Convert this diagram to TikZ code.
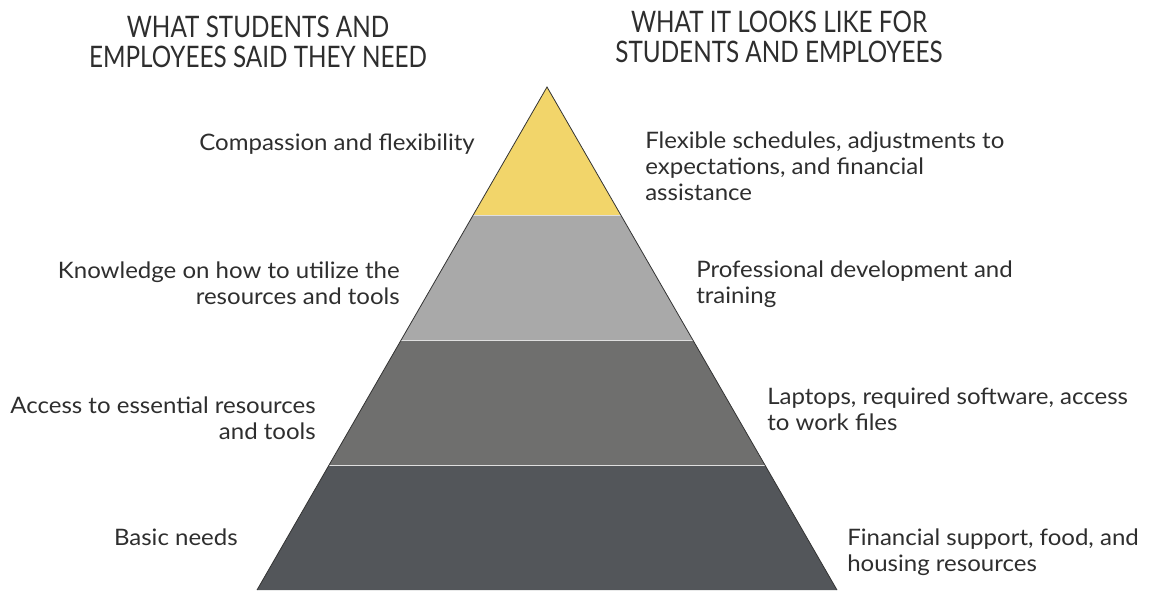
\documentclass[tikz,border=0pt]{standalone}
\usepackage{fontspec}
\setmainfont{Lato}
\newfontfamily\bodyfont[FakeStretch=1.06]{Lato}
\newfontfamily\headfont[FakeStretch=0.82]{Lato}
\definecolor{txt}{HTML}{2E2E2E}
\definecolor{lyellow}{HTML}{F2D56A}
\definecolor{llight}{HTML}{A9A9A9}
\definecolor{lmid}{HTML}{6F6F6E}
\definecolor{ldark}{HTML}{53565A}
\begin{document}
\begin{tikzpicture}[x=0.75pt,y=-0.75pt,
  lbl/.style={inner sep=0pt,text=txt,font=\bodyfont\fontsize{17}{19.2}\selectfont},
  lleft/.style={lbl,align=right,anchor=base east},
  lright/.style={lbl,align=left,anchor=base west},
  head/.style={inner sep=0pt,text=txt,align=center,anchor=base,font=\headfont\fontsize{22.2}{22.5}\selectfont}]
\useasboundingbox (0,0) rectangle (1151,590);
% pyramid corners
\coordinate (apex) at (547,87);
\coordinate (l1) at (473.2,215); \coordinate (r1) at (620.8,215);
\coordinate (l2) at (401.1,340); \coordinate (r2) at (692.9,340);
\coordinate (l3) at (329.1,465); \coordinate (r3) at (764.9,465);
\coordinate (l4) at (257,590);   \coordinate (r4) at (837,590);
\fill[lyellow] (apex) -- (r1) -- (l1) -- cycle;
\fill[llight] (l1) -- (r1) -- (r2) -- (l2) -- cycle;
\fill[lmid] (l2) -- (r2) -- (r3) -- (l3) -- cycle;
\fill[ldark] (l3) -- (r3) -- (r4) -- (l4) -- cycle;
\draw[white!75!gray,line width=0.5pt] (l1) -- (r1) (l2) -- (r2) (l3) -- (r3);
\draw[black!80,line width=0.6pt] (l4) -- (apex) -- (r4);
% headings (anchor = baseline of last line)
\node[head] (h1) at (258,67) {WHAT STUDENTS AND\\EMPLOYEES SAID THEY NEED};
\node[head] (h2) at (779,62) {WHAT IT LOOKS LIKE FOR\\STUDENTS AND EMPLOYEES};
% left labels
\node[lleft] (a1) at (475,150) {Compassion and flexibility};
\node[lleft] (a2) at (400,304) {Knowledge on how to utilize the\\resources and tools};
\node[lleft] (a3) at (316,439) {Access to essential resources\\and tools};
\node[lleft] (a4) at (238,545) {Basic needs};
% right labels
\node[lright] (b1) at (645,200) {Flexible schedules, adjustments to\\expectations, and financial\\assistance};
\node[lright] (b2) at (696,303) {Professional development and\\training};
\node[lright] (b3) at (767,430) {Laptops, required software, access\\to work files};
\node[lright] (b4) at (847,571) {Financial support, food, and\\housing resources};
\end{tikzpicture}
\end{document}
